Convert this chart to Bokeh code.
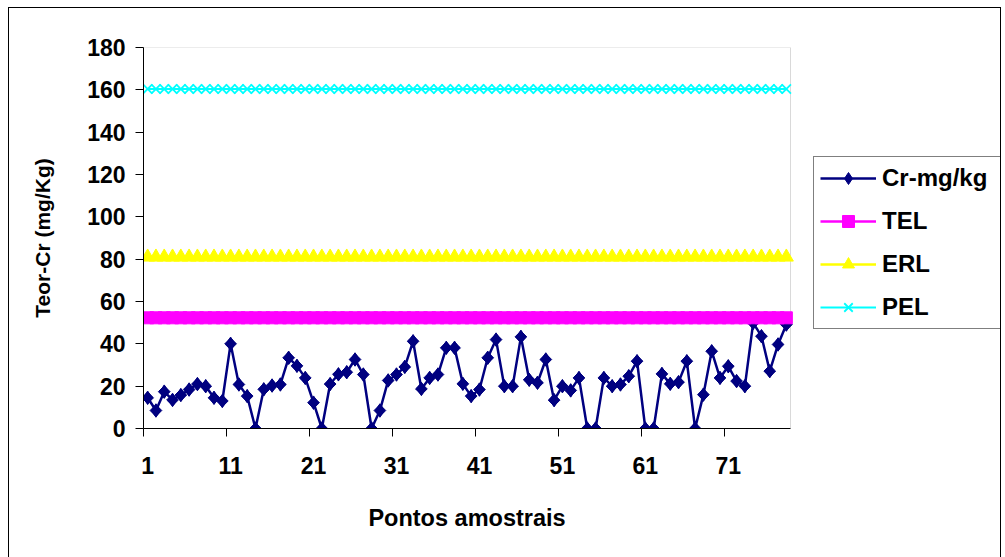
from bokeh.plotting import figure
from bokeh.models import (Range1d, FixedTicker, Legend, LegendItem, ColumnDataSource,
                          BoxAnnotation, Title)
from bokeh.embed import file_html
from bokeh.resources import INLINE

# ---- data ----
pontos = list(range(1, 79))
cr_mg_kg = [14.5, 8.5, 17.4, 13.5, 15.8, 18.4, 21.0, 20.0, 14.5, 13.0,
            40.0, 20.8, 15.3, 0.0, 18.5, 20.3, 20.8, 33.4, 29.6, 23.9,
            12.2, 0.0, 21.0, 25.6, 26.6, 32.6, 25.5, 0.0, 8.5, 22.7,
            25.5, 29.1, 41.2, 18.7, 23.9, 25.5, 38.1, 38.1, 21.1, 15.3,
            18.4, 33.4, 42.0, 20.0, 20.0, 43.3, 23.0, 21.6, 32.6, 13.4,
            20.0, 18.0, 23.9, 0.0, 0.0, 23.9, 20.0, 20.8, 24.7, 31.8,
            0.0, 0.0, 25.8, 21.1, 21.9, 31.8, 0.0, 16.0, 36.5, 23.9,
            29.4, 22.4, 20.0, 49.9, 43.6, 27.1, 39.7, 49.1]
tel_value = 52.3
erl_value = 81.0
pel_value = 160.4
tel = [tel_value] * len(pontos)
erl = [erl_value] * len(pontos)
pel = [pel_value] * len(pontos)
x_tick_labels = [1, 11, 21, 31, 41, 51, 61, 71]
y_ticks = [0, 20, 40, 60, 80, 100, 120, 140, 160, 180]
x_title = "Pontos amostrais"
y_title = "Teor-Cr (mg/Kg)"
series_names = ["Cr-mg/kg", "TEL", "ERL", "PEL"]

src = ColumnDataSource(dict(x=pontos, cr=cr_mg_kg, tel=tel, erl=erl, pel=pel))

FONT = "Liberation Sans"
FS = "23px"

# layout: the frame extends right under the legend; the data area is 647 px wide
FRAME_W, FRAME_H = 857, 381
LEFT, TOP, BOTTOM = 134, 39, 128
data_w = 647.0
x_lo = 0.5
x_hi = len(pontos) + 0.5
x_end = x_lo + (x_hi - x_lo) * FRAME_W / data_w

p = figure(frame_width=FRAME_W, frame_height=FRAME_H, output_backend="svg",
           toolbar_location=None,
           x_range=Range1d(x_lo, x_end), y_range=Range1d(0, 180),
           min_border_left=LEFT, min_border_right=0, min_border_top=TOP,
           min_border_bottom=BOTTOM)
p.styles = {"border": "1px solid black", "margin": "7px 0px 0px 8px"}
p.background_fill_color = "white"
p.border_fill_color = "white"
p.grid.visible = False
p.outline_line_color = None

# plot-area frame (grey) around the data region
p.add_layout(BoxAnnotation(left=x_lo, right=x_hi, bottom=0, top=180,
                           fill_alpha=0, line_color="#808080", line_width=1,
                           level="underlay"))

xa = p.xaxis[0]
xa.bounds = (x_lo, x_hi)
xa.ticker = FixedTicker(ticks=x_tick_labels,
                        minor_ticks=[t - 0.5 for t in x_tick_labels])
xa.major_tick_out = 0
xa.major_tick_in = 0
xa.minor_tick_out = 8
xa.minor_tick_in = 0
xa.minor_tick_line_color = "black"
xa.axis_line_color = "black"
xa.major_label_standoff = 20
xa.major_label_text_font = FONT
xa.major_label_text_font_style = "bold"
xa.major_label_text_font_size = FS
xa.major_label_text_color = "black"

# x-axis title centred under the data area (not the whole frame)
title_fs = 23.5
title_w = 8.391 * title_fs
xt = Title(text=x_title, align="left", vertical_align="top",
           offset=data_w / 2 - title_w / 2, standoff=56,
           text_font=FONT, text_font_style="bold",
           text_font_size=f"{title_fs}px", text_color="black")
p.add_layout(xt, "below")

ya = p.yaxis[0]
ya.ticker = FixedTicker(ticks=y_ticks, minor_ticks=[])
ya.major_tick_out = 8
ya.major_tick_in = 0
ya.minor_tick_out = 0
ya.minor_tick_in = 0
ya.axis_line_color = "black"
ya.major_label_standoff = 10
ya.major_label_text_font = FONT
ya.major_label_text_font_style = "bold"
ya.major_label_text_font_size = FS
ya.major_label_text_color = "black"
ya.axis_label = y_title
ya.axis_label_text_font = FONT
ya.axis_label_text_font_style = "bold"
ya.axis_label_text_font_size = "21px"
ya.axis_label_text_color = "black"
ya.axis_label_standoff = 30

# Cr series
cr_line = p.line("x", "cr", source=src, line_color="#000080", line_width=2.5)
cr_key = p.scatter("x", "cr", source=src, marker="diamond", size=13.5,
                   fill_color="#000080", line_color="#000080")
cr_pts = p.scatter("x", "cr", source=src, marker="square", size=8.3, angle=0.785398,
                   fill_color="#000080", line_color="#000080")
# TEL
tel_line = p.line("x", "tel", source=src, line_color="#FF00FF", line_width=2.5)
tel_pts = p.scatter("x", "tel", source=src, marker="square", size=12,
                    fill_color="#FF00FF", line_color="#FF00FF")
# ERL
erl_line = p.line("x", "erl", source=src, line_color="#FFFF00", line_width=2.5)
erl_pts = p.scatter("x", "erl", source=src, marker="triangle", size=14,
                    fill_color="#FFFF00", line_color="#FFFF00")
# PEL
pel_line = p.line("x", "pel", source=src, line_color="#00FFFF", line_width=2)
pel_pts = p.scatter("x", "pel", source=src, marker="x", size=13,
                    line_color="#00FFFF", line_width=1.8)

legend = Legend(items=[
    LegendItem(label=series_names[0], renderers=[cr_line, cr_key]),
    LegendItem(label=series_names[1], renderers=[tel_line, tel_pts]),
    LegendItem(label=series_names[2], renderers=[erl_line, erl_pts]),
    LegendItem(label=series_names[3], renderers=[pel_line, pel_pts]),
], location=(670, 99))
legend.border_line_color = "black"
legend.border_line_width = 1
legend.background_fill_color = "white"
legend.background_fill_alpha = 1
legend.label_text_font = FONT
legend.label_text_font_style = "bold"
legend.label_text_font_size = "24px"
legend.label_text_color = "black"
legend.glyph_width = 56
legend.glyph_height = 30
legend.label_height = 30
legend.label_width = 116
legend.label_standoff = 6
legend.spacing = 13
legend.padding = 6
legend.margin = 0
p.add_layout(legend)

open("out.html", "w").write(file_html(p, INLINE))
